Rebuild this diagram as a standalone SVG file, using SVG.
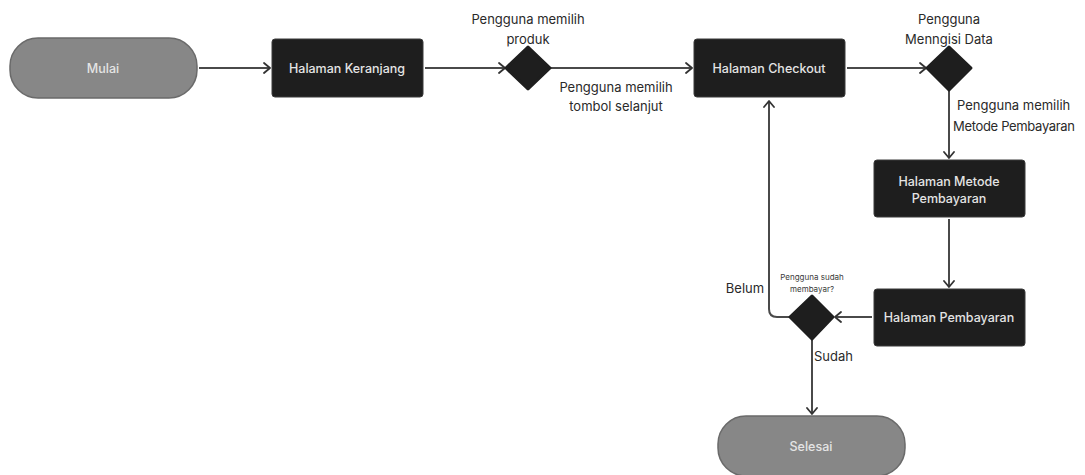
<svg xmlns="http://www.w3.org/2000/svg" width="1085" height="475" viewBox="0 0 1085 475">
  <style>
    .term { fill: #878787; stroke: #6a6a6a; stroke-width: 1.5; }
    .proc { fill: #1e1e1e; stroke: #3a3a3a; stroke-width: 1; }
    .dec { fill: #1e1e1e; stroke: #1e1e1e; stroke-width: 3; stroke-linejoin: round; }
    .ntext { font-family: Inter, "Liberation Sans", sans-serif; font-size: 12.5px; font-weight: 500; fill: #e4e4e4; text-anchor: middle; dominant-baseline: central; }
    .lbl { font-family: Inter, "Liberation Sans", sans-serif; font-size: 13px; fill: #2a2a2a; }
    .small { font-family: Inter, "Liberation Sans", sans-serif; font-size: 8px; fill: #3a3a3a; text-anchor: middle; }
    .conn { fill: none; stroke: #4a4a4a; stroke-width: 2; marker-end: url(#arr); }
  </style>
  <defs>
    <marker id="arr" viewBox="0 0 12 12" refX="11" refY="6" markerWidth="12" markerHeight="12" markerUnits="userSpaceOnUse" orient="auto">
      <path d="M5,1 L11,6 L5,11" fill="none" stroke="#333" stroke-width="1.8" stroke-linejoin="round" stroke-linecap="round"/>
    </marker>
  </defs>
  <rect width="1085" height="475" fill="#ffffff"/>

  <g id="connectors">
    <path class="conn" d="M199,68 L270,68"/>
    <path class="conn" d="M425,68 L505,68"/>
    <path class="conn" d="M551,68 L692,68"/>
    <path class="conn" d="M847,68 L926,68"/>
    <path class="conn" d="M949,91 L949,158"/>
    <path class="conn" d="M949,219 L949,287"/>
    <path class="conn" d="M872,317 L835,317"/>
    <path class="conn" d="M789,317 L777,317 Q769,317 769,309 L769,101"/>
    <path class="conn" d="M812,340 L812,414"/>
    <text class="lbl" x="616" y="92" text-anchor="middle">Pengguna memilih</text>
    <text class="lbl" x="616" y="111" text-anchor="middle">tombol selanjut</text>
    <text class="lbl" x="957" y="110">Pengguna memilih</text>
    <text class="lbl" x="953" y="131" textLength="122">Metode Pembayaran</text>
    <text class="lbl" x="745" y="293" text-anchor="middle">Belum</text>
    <text class="lbl" x="814" y="361">Sudah</text>
  </g>

  <g id="mulai">
    <rect class="term" x="10" y="38" width="187" height="60" rx="28"/>
    <text class="ntext" x="103" y="68">Mulai</text>
  </g>
  <g id="keranjang">
    <rect class="proc" x="272" y="39" width="151" height="58" rx="3"/>
    <text class="ntext" x="347" y="68">Halaman Keranjang</text>
  </g>
  <g id="decision-produk">
    <polygon class="dec" points="528,47 550,68 528,89 506,68"/>
    <text class="lbl" x="528" y="24" text-anchor="middle">Pengguna memilih</text>
    <text class="lbl" x="528" y="44" text-anchor="middle">produk</text>
  </g>
  <g id="checkout">
    <rect class="proc" x="694" y="39" width="151" height="58" rx="3"/>
    <text class="ntext" x="769" y="68">Halaman Checkout</text>
  </g>
  <g id="decision-data">
    <polygon class="dec" points="949,47 971,68 949,90 927,68"/>
    <text class="lbl" x="949" y="24" text-anchor="middle">Pengguna</text>
    <text class="lbl" x="949" y="44" text-anchor="middle">Menngisi Data</text>
  </g>
  <g id="metode">
    <rect class="proc" x="874" y="160" width="151" height="57" rx="3"/>
    <text class="ntext" x="949" y="181">Halaman Metode</text>
    <text class="ntext" x="949" y="198">Pembayaran</text>
  </g>
  <g id="pembayaran">
    <rect class="proc" x="874" y="289" width="151" height="57" rx="3"/>
    <text class="ntext" x="949" y="317">Halaman Pembayaran</text>
  </g>
  <g id="decision-bayar">
    <polygon class="dec" points="812,296 833,317 812,339 790,317"/>
    <text class="small" x="812" y="280">Pengguna sudah</text>
    <text class="small" x="812" y="292">membayar?</text>
  </g>
  <g id="selesai">
    <rect class="term" x="718" y="416" width="187" height="60" rx="28"/>
    <text class="ntext" x="811" y="446">Selesai</text>
  </g>
</svg>
